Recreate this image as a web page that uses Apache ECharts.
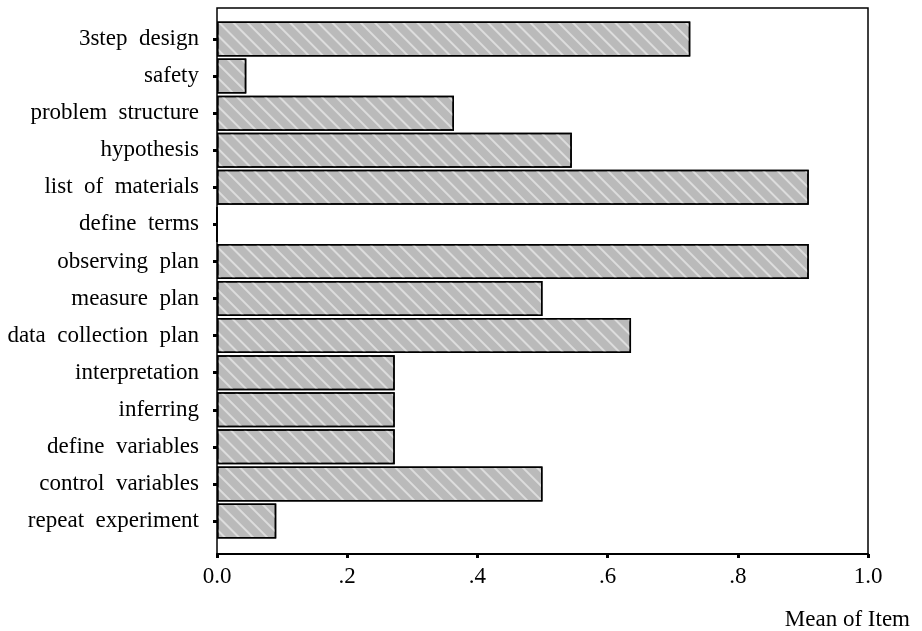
<!DOCTYPE html>
<html>
<head>
<meta charset="utf-8">
<script src="https://cdn.jsdelivr.net/npm/echarts@6/dist/echarts.min.js"></script>
<style>
html,body{margin:0;padding:0;background:#fff;}
#c{width:922px;height:631px;}
</style>
</head>
<body>
<div id="c"></div>
<script>
const categories = ['3step design','safety','problem structure','hypothesis','list of materials','define terms','observing plan','measure plan','data collection plan','interpretation','inferring','define variables','control variables','repeat experiment'];
const values = [0.727,0.045,0.364,0.545,0.909,0,0.909,0.5,0.636,0.273,0.273,0.273,0.5,0.091];
const xTickLabels = ['0.0','.2','.4','.6','.8','1.0'];
const xAxisTitle = 'Mean of Item';

const FONT = 'Liberation Serif';
const chart = echarts.init(document.getElementById('c'), null, {renderer:'canvas'});
chart.setOption({
  backgroundColor:'#fff',
  animation:false,
  title:{text:xAxisTitle,right:7,top:603,textStyle:{fontFamily:FONT,fontSize:23,fontWeight:'normal',color:'#000'}},
  grid:[
    {left:217,right:54,top:20.5,bottom:91.5},
    {left:217,right:54,top:8,bottom:77,show:true,borderColor:'#000',borderWidth:1.5,backgroundColor:'transparent'}
  ],
  xAxis:[
    {gridIndex:0,type:'value',min:0,max:1,show:false},
    {gridIndex:1,type:'value',min:0,max:1,interval:0.2,
     axisLine:{show:true,lineStyle:{color:'#000',width:2}},
     axisTick:{show:true,length:4,lineStyle:{color:'#000',width:3}},
     splitLine:{show:false},
     axisLabel:{margin:11,fontFamily:FONT,fontSize:23,color:'#000',
       formatter:function(v){return xTickLabels[Math.round(v/0.2)];}}}
  ],
  yAxis:[
    {gridIndex:0,type:'category',data:categories,inverse:true,
     axisLine:{show:false},
     axisTick:{show:true,alignWithLabel:true,length:4,lineStyle:{color:'#000',width:3}},
     axisLabel:{margin:18,fontFamily:FONT,fontSize:23,color:'#000',
       formatter:function(v){return v.replace(/ /g,'  ');}}},
    {gridIndex:1,type:'value',show:false,min:0,max:1}
  ],
  series:[{
    type:'bar',xAxisIndex:0,yAxisIndex:0,data:values,barWidth:35,
    itemStyle:{color:'#bababa',borderColor:'#000',borderWidth:1.5,
      decal:{symbol:'rect',symbolSize:1,dashArrayX:[1,0],dashArrayY:[2,8],rotation:Math.PI/4,color:'rgba(255,255,255,0.5)'}}
  }]
});
</script>
</body>
</html>
